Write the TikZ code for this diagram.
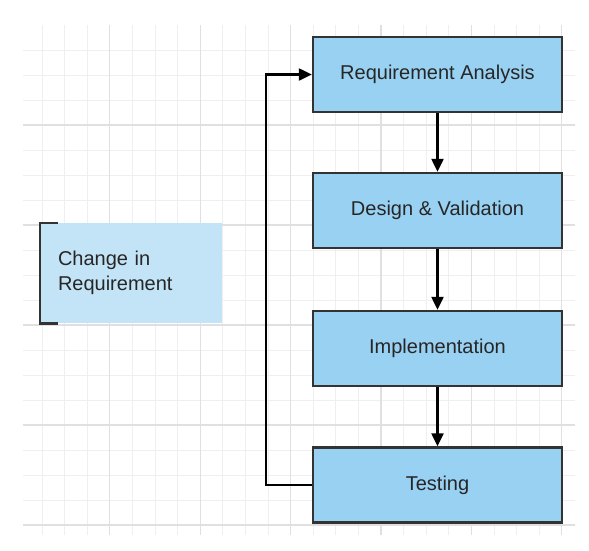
\documentclass[tikz,border=0pt]{standalone}
\usepackage{fontspec}
\setmainfont{Liberation Sans}
\usetikzlibrary{positioning,arrows.meta,calc}

\definecolor{boxblue}{HTML}{99D1F2}
\definecolor{noteblue}{HTML}{C3E4F6}
\definecolor{boxline}{HTML}{333333}
\definecolor{gridminor}{HTML}{EFEFEF}
\definecolor{gridmajor}{HTML}{E0E0E0}

\tikzset{
  phase/.style={draw=boxline,fill=boxblue,line width=2.4pt,minimum width=249pt,
    minimum height=75pt,inner sep=0pt,text=black!85,font=\fontsize{20}{24}\selectfont},
  note/.style={fill=noteblue,minimum width=182pt,minimum height=100pt,inner xsep=18pt,
    text width=146pt,align=left,text=black!85,font=\fontsize{20}{25}\selectfont},
  flow/.style={-{Triangle[length=13pt,width=12pt]},line width=2.3pt},
  bracket/.style={draw=boxline,line width=2.6pt},
}

\begin{document}
\begin{tikzpicture}[x=1pt,y=-1pt]
		\useasboundingbox (0,0) rectangle (589,550);
		%grid
		\foreach \k in {0,...,23}{
			\pgfmathsetmacro\gx{42+22.6*\k}
			\draw[gridminor,line width=1pt] (\gx,25) -- (\gx,535);
		}
		\foreach \k in {0,...,19}{
			\pgfmathsetmacro\gy{50+25*\k}
			\draw[gridminor,line width=1pt] (23,\gy) -- (575,\gy);
		}
		\foreach \k in {3,7,...,23}{
			\pgfmathsetmacro\gx{42+22.6*\k}
			\draw[gridmajor,line width=1.2pt] (\gx,25) -- (\gx,535);
		}
		\foreach \k in {3,7,...,19}{
			\pgfmathsetmacro\gy{50+25*\k}
			\draw[gridmajor,line width=1.2pt] (23,\gy) -- (575,\gy);
		}

		%phases
		\node[phase] (ra) at (437.5,74.5) {Requirement Analysis};
		\node[phase,below=58.6pt of ra] (dv) {Design \& Validation};
		\node[phase,below=60.6pt of dv] (im) {Implementation};
		\node[phase,below=59.1pt of im] (te) {Testing};

		\draw[flow] (ra) -- (dv);
		\draw[flow] (dv) -- (im);
		\draw[flow] (im) -- (te);
		\draw[flow] (te.west) -- ++(-46pt,0) |- (ra.west);

		%note
		\node[note] (chg) at (131,273) {Change in\\Requirement};
		\draw[bracket] ([xshift=18pt]chg.north west) -- (chg.north west)
			-- (chg.south west) -- ([xshift=18pt]chg.south west);
\end{tikzpicture}
\end{document}
